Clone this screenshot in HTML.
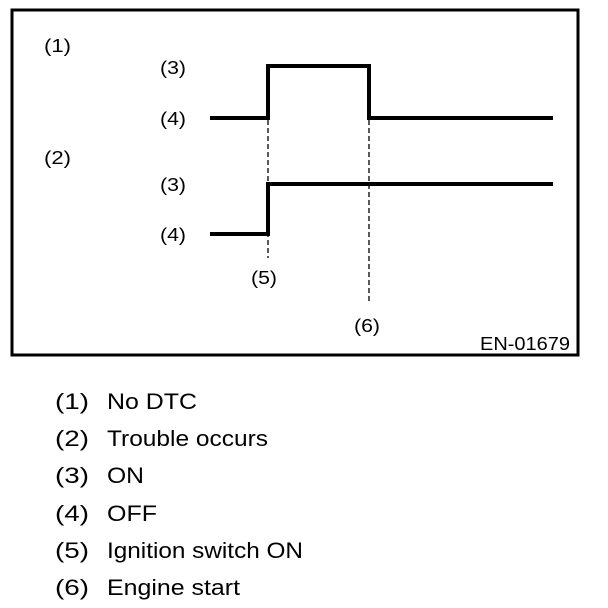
<!DOCTYPE html>
<html><head><style>
html,body{margin:0;padding:0;background:#fff;}
svg{display:block;}
</style></head><body>
<svg width="608" height="608" xmlns="http://www.w3.org/2000/svg" font-family="Liberation Sans, Arial, sans-serif">
<rect x="12" y="10" width="566" height="345" fill="none" stroke="#000" stroke-width="3"/>
<g font-size="18" fill="#000">
<text x="44" y="52" textLength="27" lengthAdjust="spacingAndGlyphs">(1)</text>
<text x="160" y="74" textLength="26" lengthAdjust="spacingAndGlyphs">(3)</text>
<text x="160" y="125" textLength="26" lengthAdjust="spacingAndGlyphs">(4)</text>
<text x="44" y="164" textLength="27" lengthAdjust="spacingAndGlyphs">(2)</text>
<text x="160" y="191" textLength="26" lengthAdjust="spacingAndGlyphs">(3)</text>
<text x="160" y="241" textLength="26" lengthAdjust="spacingAndGlyphs">(4)</text>
<text x="251" y="284" textLength="26" lengthAdjust="spacingAndGlyphs">(5)</text>
<text x="354" y="332" textLength="26" lengthAdjust="spacingAndGlyphs">(6)</text>
<text x="480" y="350" textLength="90" lengthAdjust="spacingAndGlyphs">EN-01679</text>
</g>
<g fill="none" stroke="#000" stroke-width="4">
<polyline points="210,118 268,118 268,66 369,66 369,118 553,118"/>
<polyline points="210,234 268,234 268,184 553,184"/>
</g>
<g stroke="#000" stroke-width="1.3" stroke-dasharray="5,3">
<line x1="268" y1="120" x2="268" y2="258"/>
<line x1="369" y1="120" x2="369" y2="303"/>
</g>
<g font-size="22" fill="#000">
<text x="55" y="409" textLength="34" lengthAdjust="spacingAndGlyphs">(1)</text><text x="107" y="409" textLength="90" lengthAdjust="spacingAndGlyphs">No DTC</text>
<text x="55" y="446" textLength="34" lengthAdjust="spacingAndGlyphs">(2)</text><text x="107" y="446" textLength="161" lengthAdjust="spacingAndGlyphs">Trouble occurs</text>
<text x="55" y="483" textLength="34" lengthAdjust="spacingAndGlyphs">(3)</text><text x="107" y="483" textLength="37" lengthAdjust="spacingAndGlyphs">ON</text>
<text x="55" y="521" textLength="34" lengthAdjust="spacingAndGlyphs">(4)</text><text x="107" y="521" textLength="50" lengthAdjust="spacingAndGlyphs">OFF</text>
<text x="55" y="558" textLength="34" lengthAdjust="spacingAndGlyphs">(5)</text><text x="107" y="558" textLength="196" lengthAdjust="spacingAndGlyphs">Ignition switch ON</text>
<text x="55" y="595" textLength="34" lengthAdjust="spacingAndGlyphs">(6)</text><text x="107" y="595" textLength="133" lengthAdjust="spacingAndGlyphs">Engine start</text>
</g>
</svg>
</body></html>
